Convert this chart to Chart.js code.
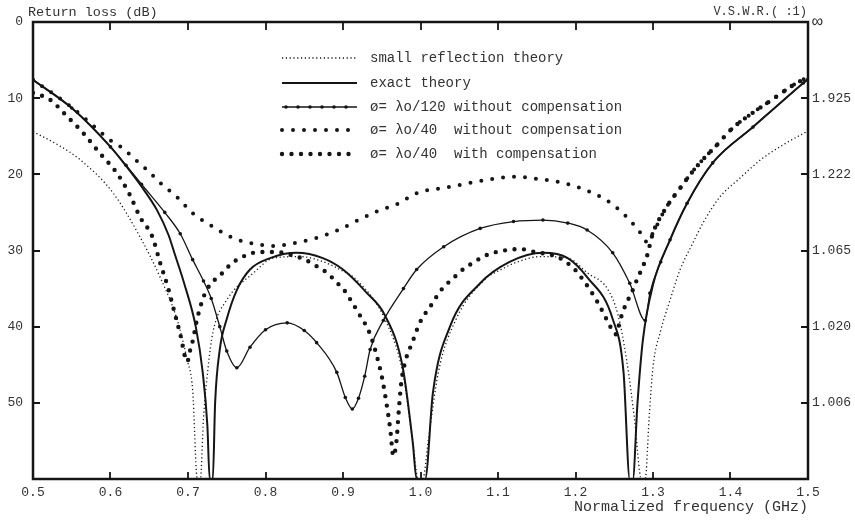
<!DOCTYPE html>
<html>
<head>
<meta charset="utf-8">
<script src="https://cdn.jsdelivr.net/npm/chart.js@4.4.1/dist/chart.umd.min.js"></script>
<style>
  html, body { margin: 0; padding: 0; background: #fff; }
  canvas { display: block; }
</style>
</head>
<body>
<canvas id="rlChart" width="855" height="520"></canvas>
<script>
// axis ticks
const xTicks = [0.5, 0.6, 0.7, 0.8, 0.9, 1.0, 1.1, 1.2, 1.3, 1.4, 1.5];
const yTicks = [0, 10, 20, 30, 40, 50];
const vswrLabels = ['∞', '1.925', '1.222', '1.065', '1.020', '1.006'];

// small reflection theory
const freqSmall = [0.5, 0.53, 0.561, 0.603, 0.638, 0.664, 0.686, 0.699, 0.706, 0.712, 0.716, 0.72, 0.726, 0.732, 0.75, 0.784, 0.81, 0.845, 0.875, 0.896, 0.918, 0.954, 0.977, 0.99, 0.997, 1.003, 1.01, 1.023, 1.046, 1.082, 1.104, 1.125, 1.155, 1.19, 1.216, 1.241, 1.255, 1.266, 1.276, 1.285, 1.29, 1.295, 1.3, 1.31, 1.322, 1.335, 1.35, 1.365, 1.386, 1.41, 1.44, 1.47, 1.5];
const lossSmall = [14.4, 16, 18.1, 22.4, 28.2, 33.5, 39.1, 44.4, 48.3, 60, 60, 52, 45.3, 40.8, 36.5, 33, 31, 30.8, 31.5, 32.5, 33.9, 39, 46, 55, 60, 60, 55, 46, 39, 33.9, 32.5, 31.5, 30.8, 31, 33, 35, 38.5, 44.4, 52, 60, 60, 52, 45.3, 40.5, 36.5, 32.5, 29.3, 26.3, 23, 20.7, 18, 16, 14.3];

// exact theory
const freqExact = [0.5, 0.55, 0.6, 0.62, 0.64, 0.66, 0.675, 0.683, 0.695, 0.71, 0.719, 0.725, 0.728, 0.732, 0.735, 0.741, 0.75, 0.763, 0.78, 0.806, 0.84, 0.874, 0.9, 0.93, 0.954, 0.977, 0.99, 0.995, 1.006, 1.016, 1.038, 1.077, 1.115, 1.158, 1.19, 1.215, 1.248, 1.262, 1.27, 1.274, 1.28, 1.287, 1.3, 1.322, 1.344, 1.377, 1.429, 1.494, 1.5];
const lossExact = [7.6, 11.3, 16.4, 18.9, 21.6, 24.7, 28, 30.5, 34.3, 40, 46, 53, 60, 60, 50, 43, 39, 35.2, 32.5, 31, 30.3, 31, 32.5, 35.5, 38.5, 45.3, 55.2, 60, 60, 48.7, 40, 34.3, 31.5, 30.3, 31, 33.5, 39, 46, 60, 60, 50, 41.7, 34.5, 28.6, 23.8, 18.5, 13.8, 8, 7.5];

// d = lambda0/120 without compensation
const freq120 = [0.5, 0.55, 0.6, 0.62, 0.64, 0.67, 0.69, 0.706, 0.72, 0.73, 0.741, 0.75, 0.763, 0.78, 0.8, 0.828, 0.85, 0.866, 0.892, 0.903, 0.912, 0.92, 0.928, 0.935, 0.952, 0.978, 0.995, 1.03, 1.077, 1.12, 1.158, 1.19, 1.215, 1.248, 1.27, 1.29, 1.296, 1.31, 1.322, 1.344, 1.377, 1.429, 1.494, 1.5];
const loss120 = [7.6, 11.3, 16.4, 18.8, 21.3, 25, 27.8, 31.2, 34, 36.3, 40, 43.2, 45.4, 42.7, 40.4, 39.5, 40.5, 42.1, 46, 49.3, 50.8, 49.4, 46.5, 43, 39.2, 35, 32.5, 29.5, 27.1, 26.2, 26, 26.4, 27.3, 30.3, 34.3, 39.2, 35.6, 31.5, 28.6, 23.8, 18.5, 13.8, 8, 7.5];

// d = lambda0/40 without compensation
const freq40 = [0.5, 0.55, 0.574, 0.602, 0.615, 0.628, 0.647, 0.666, 0.686, 0.706, 0.731, 0.757, 0.784, 0.812, 0.838, 0.864, 0.892, 0.918, 0.943, 0.97, 0.997, 1.035, 1.065, 1.094, 1.122, 1.15, 1.183, 1.211, 1.24, 1.265, 1.287, 1.292, 1.3, 1.315, 1.335, 1.357, 1.381, 1.403, 1.429, 1.455, 1.479, 1.5];
const loss40 = [7.6, 11.2, 13.3, 15.7, 16.5, 17.7, 19.4, 21.3, 23, 25.1, 26.8, 28.3, 29.1, 29.4, 29, 28.4, 27.4, 26.1, 24.9, 23.9, 22.4, 21.7, 21.1, 20.6, 20.3, 20.6, 21.1, 22, 23.4, 25.5, 28.1, 28.9, 27.7, 24.7, 21.8, 18.9, 16.3, 13.9, 11.9, 10.1, 8.4, 7.2];

// d = lambda0/40 with compensation
const freq40c = [0.5, 0.522, 0.544, 0.565, 0.586, 0.608, 0.625, 0.638, 0.654, 0.664, 0.674, 0.681, 0.69, 0.699, 0.703, 0.707, 0.71, 0.718, 0.724, 0.732, 0.744, 0.754, 0.765, 0.776, 0.79, 0.815, 0.83, 0.851, 0.865, 0.879, 0.891, 0.903, 0.911, 0.92, 0.935, 0.944, 0.95, 0.956, 0.961, 0.965, 0.969, 0.972, 0.975, 0.982, 0.989, 0.999, 1.015, 1.025, 1.035, 1.047, 1.057, 1.068, 1.081, 1.094, 1.108, 1.128, 1.148, 1.176, 1.189, 1.202, 1.21, 1.219, 1.228, 1.236, 1.245, 1.252, 1.258, 1.264, 1.273, 1.279, 1.286, 1.292, 1.3, 1.315, 1.335, 1.357, 1.381, 1.403, 1.429, 1.455, 1.479, 1.5];
const loss40c = [9.3, 10.2, 12.4, 14.6, 17.2, 19.8, 22.7, 25.6, 28.2, 31.6, 34.8, 37.5, 41, 44.6, 43, 41.5, 39.8, 36.7, 35.2, 34.1, 33, 31.9, 31.1, 30.6, 30.2, 30.2, 30.5, 31.2, 32, 32.9, 34.1, 35.4, 36.7, 38.2, 41, 44, 46.5, 50, 53.5, 57, 55, 51, 47.5, 44, 42.2, 39.5, 37, 35.4, 34.3, 33.2, 32.3, 31.6, 30.8, 30.3, 30, 29.8, 30.2, 30.8, 31.6, 32.8, 33.9, 35.2, 36.7, 38.2, 40, 41, 39, 37.3, 35.4, 33.9, 32.3, 30.8, 27.7, 24.7, 21.8, 18.9, 16.3, 13.9, 11.9, 10.1, 8.4, 7.2];

const ink = '#151515';
const textColor = '#333';
const monoFont = '"Liberation Mono", "DejaVu Sans Mono", monospace';

function pairs(xs, ys) {
    return xs.map((x, i) => ({ x: x, y: ys[i] }));
}

// frame with inward tick marks, like the plotter drawing
const framePlugin = {
    id: 'frame',
    afterDatasetsDraw(chart) {
        const { ctx, chartArea: a, scales } = chart;
        ctx.save();
        ctx.strokeStyle = ink;
        ctx.lineWidth = 2.5;
        ctx.strokeRect(a.left, a.top, a.right - a.left, a.bottom - a.top);
        ctx.lineWidth = 1.8;
        ctx.beginPath();
        xTicks.slice(1, -1).forEach(v => {
            const px = Math.round(scales.x.getPixelForValue(v));
            ctx.moveTo(px, a.bottom); ctx.lineTo(px, a.bottom - 7);
            ctx.moveTo(px, a.top); ctx.lineTo(px, a.top + 8);
        });
        yTicks.slice(1).forEach(v => {
            const py = Math.round(scales.y.getPixelForValue(v));
            ctx.moveTo(a.left, py); ctx.lineTo(a.left + 7, py);
            ctx.moveTo(a.right, py); ctx.lineTo(a.right - 7, py);
        });
        ctx.stroke();
        ctx.restore();
    }
};

// legend inside the plot + the two axis captions at the top
const notesPlugin = {
    id: 'notes',
    afterDraw(chart) {
        const ctx = chart.ctx;
        const a = chart.chartArea;
        const rowY = [58, 83, 107, 130, 154];
        ctx.save();
        ctx.font = '14px ' + monoFont;
        ctx.fillStyle = textColor;
        ctx.textBaseline = 'middle';
        chart.data.datasets.forEach((ds, i) => {
            const y = rowY[i];
            ctx.save();
            ctx.strokeStyle = ds.borderColor;
            ctx.lineWidth = ds.borderWidth;
            ctx.lineCap = ds.borderCapStyle || 'butt';
            ctx.setLineDash(ds.borderDash || []);
            ctx.beginPath();
            ctx.moveTo(282, y);
            ctx.lineTo(357, y);
            ctx.stroke();
            if (ds.pointRadius > 0) {
                ctx.fillStyle = ds.borderColor;
                for (let x = 286; x <= 356; x += 12) {
                    ctx.beginPath();
                    ctx.arc(x, y, ds.pointRadius, 0, Math.PI * 2);
                    ctx.fill();
                }
            }
            ctx.restore();
            ctx.fillText(ds.label, 370, y);
        });

        ctx.font = '13.5px ' + monoFont;
        ctx.textAlign = 'left';
        ctx.fillText('Return loss (dB)', 28, 12);
        ctx.font = '12px ' + monoFont;
        ctx.textAlign = 'right';
        ctx.fillText('V.S.W.R.( :1)', a.right - 1, 12);
        ctx.restore();
    }
};

const ctx = document.getElementById('rlChart').getContext('2d');
const rlChart = new Chart(ctx, {
    type: 'line',
    data: {
        datasets: [
            {
                label: 'small reflection theory',
                data: pairs(freqSmall, lossSmall),
                borderColor: ink,
                borderWidth: 1.3,
                borderDash: [1.2, 2.6],
                pointRadius: 0
            },
            {
                label: 'exact theory',
                data: pairs(freqExact, lossExact),
                borderColor: ink,
                borderWidth: 2,
                pointRadius: 0
            },
            {
                label: 'ø= λo/120 without compensation',
                data: pairs(freq120, loss120),
                borderColor: ink,
                borderWidth: 1.3,
                pointRadius: 1.8,
                pointBackgroundColor: ink,
                pointBorderWidth: 0
            },
            {
                label: 'ø= λo/40  without compensation',
                data: pairs(freq40, loss40),
                borderColor: ink,
                borderWidth: 4,
                borderDash: [0, 11],
                borderCapStyle: 'round',
                pointRadius: 0
            },
            {
                label: 'ø= λo/40  with compensation',
                data: pairs(freq40c, loss40c),
                borderColor: ink,
                borderWidth: 4.4,
                borderDash: [0, 9.5],
                borderCapStyle: 'round',
                pointRadius: 0
            }
        ]
    },
    options: {
        responsive: false,
        devicePixelRatio: 1,
        animation: false,
        cubicInterpolationMode: 'monotone',
        layout: { padding: { top: 22, left: 0, right: 0, bottom: 0 } },
        plugins: {
            legend: { display: false },
            tooltip: { enabled: false }
        },
        scales: {
            x: {
                type: 'linear',
                min: 0.5,
                max: 1.5,
                afterBuildTicks: s => { s.ticks = xTicks.map(v => ({ value: v })); },
                afterFit: s => { s.height = 41; },
                grid: { display: false, drawTicks: false },
                border: { display: false },
                ticks: {
                    autoSkip: false,
                    maxRotation: 0,
                    padding: 6,
                    color: textColor,
                    font: { family: monoFont, size: 13 },
                    callback: v => v.toFixed(1)
                },
                title: {
                    display: true,
                    text: 'Normalized frequency (GHz)',
                    align: 'end',
                    color: textColor,
                    font: { family: monoFont, size: 15 },
                    padding: { top: 0, bottom: 4 }
                }
            },
            y: {
                min: 0,
                max: 60,
                reverse: true,
                afterBuildTicks: s => { s.ticks = yTicks.map(v => ({ value: v })); },
                afterFit: s => { s.width = 33; },
                grid: { display: false, drawTicks: false },
                border: { display: false },
                ticks: {
                    padding: 10,
                    color: textColor,
                    font: { family: monoFont, size: 13 }
                }
            },
            y2: {
                position: 'right',
                min: 0,
                max: 60,
                reverse: true,
                afterBuildTicks: s => { s.ticks = yTicks.map(v => ({ value: v })); },
                afterFit: s => { s.width = 47; },
                grid: { display: false, drawTicks: false },
                border: { display: false },
                ticks: {
                    padding: 4,
                    color: textColor,
                    font: c => ({ family: monoFont, size: c.index === 0 ? 18 : 13 }),
                    callback: (v, i) => vswrLabels[i]
                }
            }
        }
    },
    plugins: [framePlugin, notesPlugin]
});
</script>
</body>
</html>
